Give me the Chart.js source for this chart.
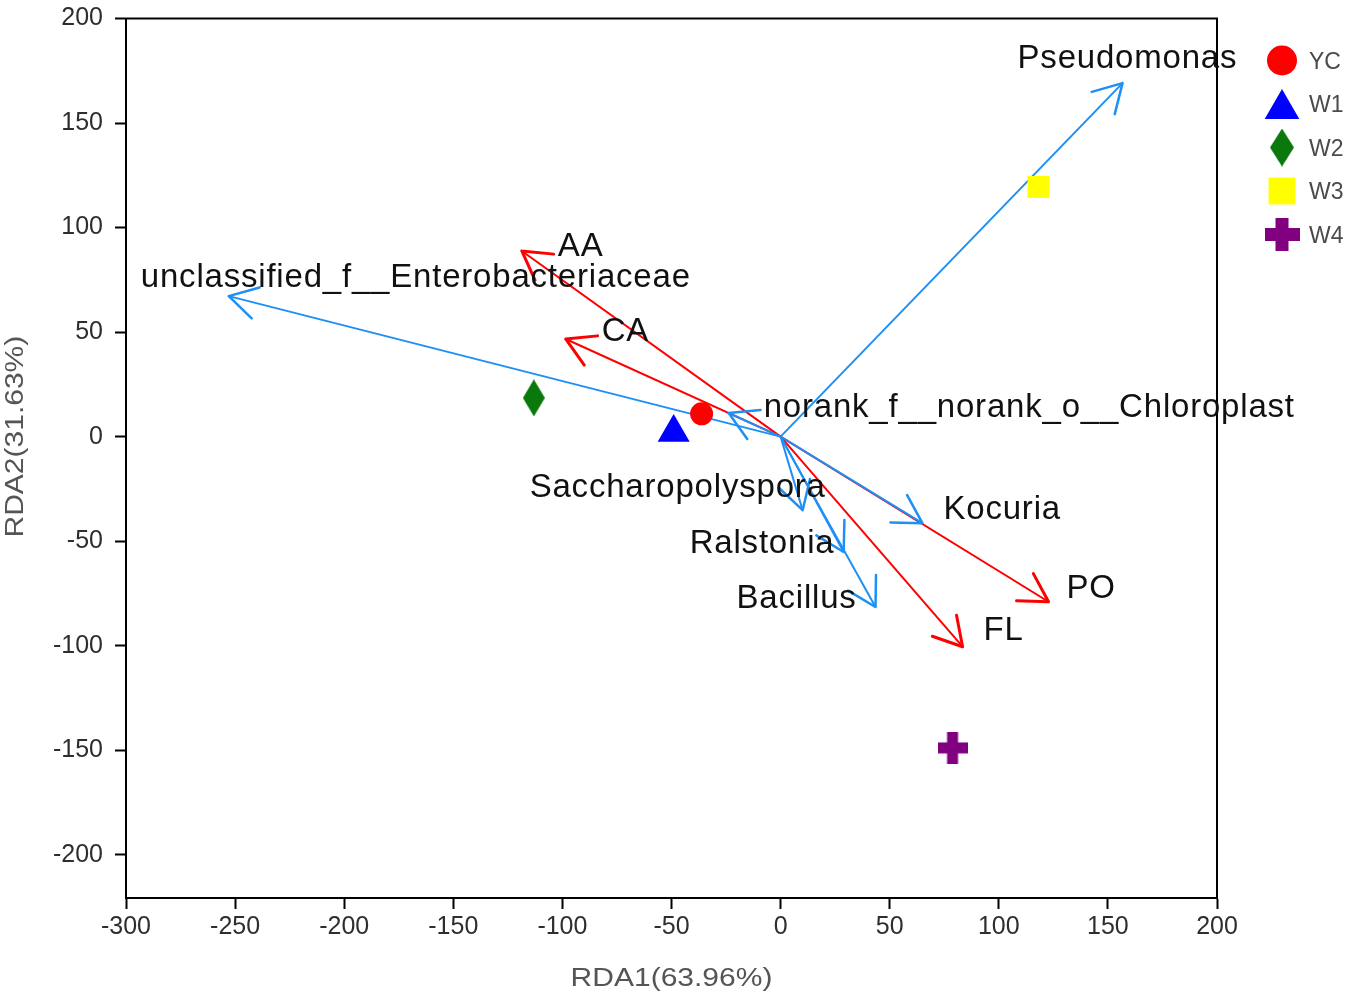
<!DOCTYPE html>
<html>
<head>
<meta charset="utf-8">
<script src="https://cdn.jsdelivr.net/npm/chart.js@4.4.1/dist/chart.umd.min.js"></script>
<style>
  html, body { margin: 0; padding: 0; background: #fff; }
  #rda { display: block; }
</style>
</head>
<body>
<canvas id="rda" width="1355" height="1001"></canvas>
<script>
// tick labels
const xTicks = [-300, -250, -200, -150, -100, -50, 0, 50, 100, 150, 200];
const yTicks = [200, 150, 100, 50, 0, -50, -100, -150, -200];

// samples (site scores)
const sampleNames = ['YC', 'W1', 'W2', 'W3', 'W4'];
const sampleX = [-36.2, -49, -113.1, 118.2, 78.8];
const sampleY = [10.9, 2, 18.5, 119.4, -148.9];

// species arrows
const speciesNames = ['Pseudomonas', 'unclassified_f__Enterobacteriaceae', 'norank_f__norank_o__Chloroplast',
    'Saccharopolyspora', 'Ralstonia', 'Bacillus', 'Kocuria'];
const speciesX = [156.7, -252.9, -23.8, 10.1, 28.9, 43.5, 65];
const speciesY = [169.1, 67.2, 11.3, -35.2, -55.2, -81.5, -41.4];

// environmental factor arrows
const envNames = ['AA', 'CA', 'PO', 'FL'];
const envX = [-118.6, -98.5, 122.8, 83.4];
const envY = [88.8, 46.7, -79, -100.5];

const FONT = '"Liberation Sans", Arial, sans-serif';
const BLUE = '#1e8ff5';
const RED = '#ff0000';

// where each arrow label sits relative to its arrow tip (px, left edge / baseline)
const labelNudge = {
    'Pseudomonas': [-105, -15],
    'unclassified_f__Enterobacteriaceae': [-88, -9],
    'norank_f__norank_o__Chloroplast': [35, 4],
    'Saccharopolyspora': [-273, -13],
    'Ralstonia': [-154, 1],
    'Bacillus': [-139, 1],
    'Kocuria': [21, -4],
    'AA': [36, 5],
    'CA': [36, 2],
    'PO': [18, -4],
    'FL': [21, -7]
};

function shapeCanvas(kind, color, w, h) {
    const c = document.createElement('canvas');
    c.width = w;
    c.height = h;
    const g = c.getContext('2d');
    g.fillStyle = color;
    if (kind === 'diamond') {
        g.beginPath();
        g.moveTo(w / 2, 0);
        g.lineTo(w, h / 2);
        g.lineTo(w / 2, h);
        g.lineTo(0, h / 2);
        g.closePath();
        g.fill();
    } else {
        const t = Math.round(w * 0.38);
        g.fillRect((w - t) / 2, 0, t, h);
        g.fillRect(0, (h - t) / 2, w, t);
    }
    return c;
}

const sampleStyle = [
    {color: '#ff0000', point: 'circle', r: 11.5, legend: 'circle', lr: 15},
    {color: '#0000ff', point: 'triangle', r: 18.5, legend: 'triangle', lr: 20},
    {color: '#0b780b', point: shapeCanvas('diamond', '#0b780b', 22, 37), r: 12,
        legend: shapeCanvas('diamond', '#0b780b', 24, 38), lr: 12},
    {color: '#ffff00', point: 'rect', r: 15.6, legend: 'rect', lr: 19},
    {color: '#800080', point: shapeCanvas('plus', '#800080', 30, 32), r: 15,
        legend: shapeCanvas('plus', '#800080', 35, 33), lr: 15}
];

const datasets = [];

sampleNames.forEach((name, i) => {
    const st = sampleStyle[i];
    datasets.push({
        label: name,
        data: [{x: sampleX[i], y: sampleY[i]}],
        pointStyle: st.point,
        pointRadius: st.r,
        pointHoverRadius: st.r,
        backgroundColor: st.color,
        borderColor: st.color,
        borderWidth: 0
    });
});

function arrowSet(name, x, y, color) {
    return {
        label: name,
        data: [{x: 0, y: 0}, {x: x, y: y}],
        showLine: true,
        borderColor: color,
        borderWidth: 2,
        pointRadius: 0,
        pointHoverRadius: 0,
        arrow: true
    };
}

speciesNames.forEach((name, i) => datasets.push(arrowSet(name, speciesX[i], speciesY[i], BLUE)));
envNames.forEach((name, i) => datasets.push(arrowSet(name, envX[i], envY[i], RED)));

// the source font is wide, so titles are stretched a little sideways
function wideText(ctx, text, x, y, rot) {
    ctx.save();
    ctx.translate(x, y);
    ctx.rotate(rot);
    ctx.scale(1.2, 1);
    ctx.fillText(text, 0, 0);
    ctx.restore();
}

const rdaDecor = {
    id: 'rdaDecor',
    afterDatasetsDraw(chart) {
        const ctx = chart.ctx;
        const a = chart.chartArea;

        ctx.save();
        ctx.strokeStyle = '#000';
        ctx.lineWidth = 2;
        ctx.strokeRect(a.left, a.top, a.right - a.left, a.bottom - a.top);
        ctx.restore();

        // arrow heads
        chart.data.datasets.forEach((ds, i) => {
            if (!ds.arrow) return;
            const pts = chart.getDatasetMeta(i).data;
            const p0 = pts[0], p1 = pts[1];
            const ang = Math.atan2(p1.y - p0.y, p1.x - p0.x);
            const len = 32;
            ctx.save();
            ctx.strokeStyle = ds.borderColor;
            ctx.lineWidth = ds.borderColor === RED ? 3 : 2.5;
            ctx.lineCap = 'round';
            ctx.beginPath();
            [-1, 1].forEach(s => {
                const w = ang + Math.PI + s * Math.PI / 6;
                ctx.moveTo(p1.x, p1.y);
                ctx.lineTo(p1.x + len * Math.cos(w), p1.y + len * Math.sin(w));
            });
            ctx.stroke();
            ctx.restore();
        });

        // arrow labels
        ctx.save();
        ctx.font = '33px ' + FONT;
        ctx.letterSpacing = '0.8px';
        ctx.fillStyle = '#111';
        ctx.textAlign = 'left';
        ctx.textBaseline = 'alphabetic';
        chart.data.datasets.forEach((ds, i) => {
            if (!ds.arrow) return;
            const tip = chart.getDatasetMeta(i).data[1];
            const n = labelNudge[ds.label] || [0, 0];
            ctx.fillText(ds.label, tip.x + n[0], tip.y + n[1]);
        });
        ctx.restore();
    },
    afterDraw(chart) {
        const ctx = chart.ctx;
        const a = chart.chartArea;
        const ys = chart.scales.y;

        // axis titles
        ctx.save();
        ctx.font = '25px ' + FONT;
        ctx.fillStyle = '#555';
        ctx.textAlign = 'center';
        ctx.textBaseline = 'alphabetic';
        wideText(ctx, 'RDA1(63.96%)', (a.left + a.right) / 2, chart.height - 15, 0);
        const midY = (ys.getPixelForValue(yTicks[0]) + ys.getPixelForValue(yTicks[yTicks.length - 1])) / 2;
        wideText(ctx, 'RDA2(31.63%)', 23, midY, -Math.PI / 2);
        ctx.restore();

        // legend
        const mx = a.right + 65;
        ctx.save();
        ctx.font = '23px ' + FONT;
        ctx.textAlign = 'left';
        ctx.textBaseline = 'alphabetic';
        sampleNames.forEach((name, i) => {
            const st = sampleStyle[i];
            const rowY = a.top + 42 + i * 43.5;
            const cy = st.legend === 'triangle' ? rowY + st.lr / 4 : rowY;
            ctx.fillStyle = st.color;
            Chart.helpers.drawPoint(ctx, {
                pointStyle: st.legend,
                radius: st.lr,
                rotation: 0,
                borderWidth: 0
            }, mx, cy);
            ctx.fillStyle = '#4a4a4a';
            ctx.fillText(name, mx + 27, rowY + 8);
        });
        ctx.restore();
    }
};

const axisLook = {
    grid: {display: true, drawOnChartArea: false, drawTicks: true, tickLength: 11, tickWidth: 2, tickColor: '#000'},
    border: {display: true, color: '#000', width: 2}
};

new Chart(document.getElementById('rda'), {
    type: 'scatter',
    data: {datasets: datasets},
    options: {
        responsive: false,
        animation: false,
        events: [],
        layout: {padding: {top: 18, right: 138, left: 0, bottom: 0}},
        plugins: {
            legend: {display: false},
            tooltip: {enabled: false}
        },
        scales: {
            x: {
                type: 'linear',
                min: xTicks[0],
                max: xTicks[xTicks.length - 1],
                afterBuildTicks: s => { s.ticks = xTicks.map(v => ({value: v})); },
                afterFit: s => { s.height = 103; },
                grid: axisLook.grid,
                border: axisLook.border,
                ticks: {color: '#2e2e2e', font: {family: FONT, size: 25}, padding: 3, maxRotation: 0, autoSkip: false}
            },
            y: {
                type: 'linear',
                min: -220.7,
                max: yTicks[0],
                afterBuildTicks: s => { s.ticks = yTicks.map(v => ({value: v})); },
                afterFit: s => { s.width = 126; s.paddingTop = 0; s.paddingBottom = 0; },
                grid: axisLook.grid,
                border: axisLook.border,
                ticks: {color: '#2e2e2e', font: {family: FONT, size: 25}, padding: 12, autoSkip: false}
            }
        }
    },
    plugins: [rdaDecor]
});
</script>
</body>
</html>
